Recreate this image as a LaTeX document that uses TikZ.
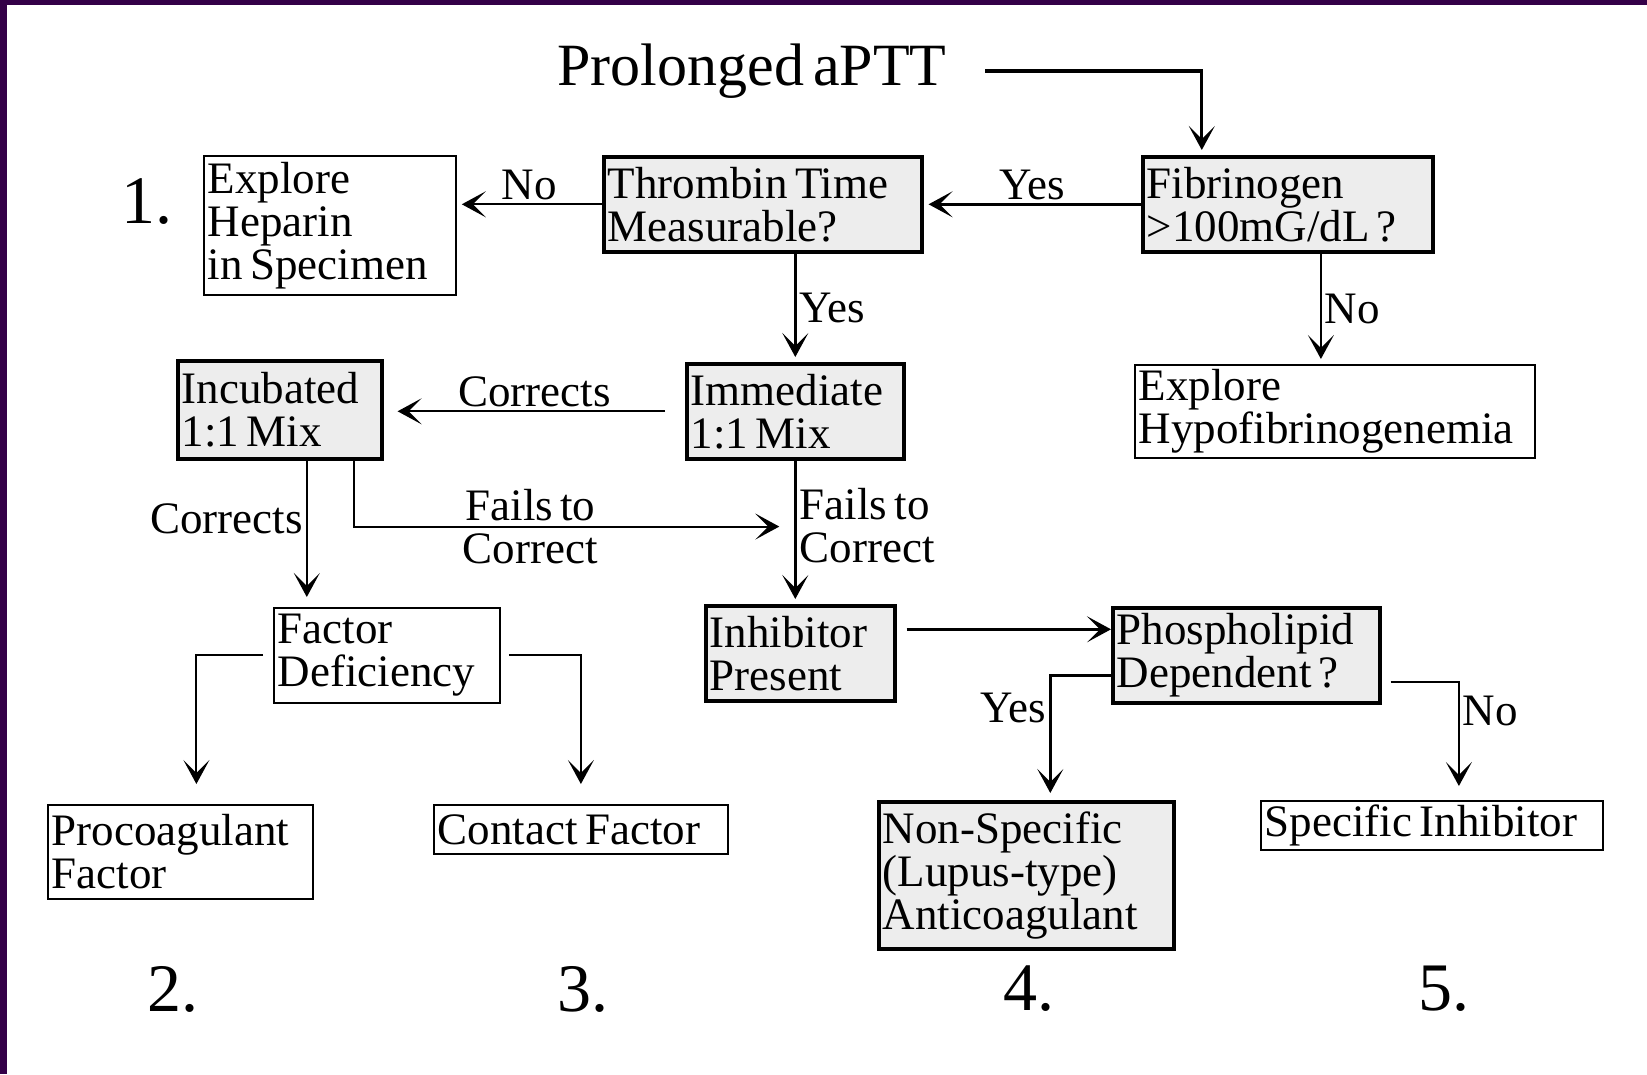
\documentclass[tikz,border=0pt]{standalone}
\usepackage{fontspec}
\setmainfont{Liberation Serif}[WordSpace=0.6]
\usetikzlibrary{arrows.meta,calc}
\definecolor{slidepurple}{RGB}{52,0,72}
\newcommand{\boxfont}{\fontsize{45}{43}\selectfont}
\newcommand{\titlefont}{\fontsize{60}{60}\selectfont}
\newcommand{\numfont}{\fontsize{68}{68}\selectfont}
\newcommand{\tightspace}{\spaceskip=0.16em plus 0.05em\relax}
\tikzset{
  % plain result box
  res/.style   = {rectangle, draw=black, line width=1.8pt, anchor=north west,
                  align=left, inner xsep=4pt, inner ysep=0pt, font=\boxfont,
                  execute at begin node=\tightspace},
  % test box (heavy frame, stippled fill)
  test/.style  = {res, line width=3.6pt, fill=black!7},
  % branch label
  lbl/.style   = {font=\boxfont, inner sep=3pt, execute at begin node=\tightspace},
  % outcome number
  num/.style   = {font=\numfont},
  % arrows
  flow/.style  = {-{Stealth[length=24pt,width=26pt,inset=13pt]}, line width=2pt, shorten >=5pt},
  heavy/.style = {flow, line width=3.2pt},
}
\begin{document}
\begin{tikzpicture}[x=1pt, y=-1pt]
  \useasboundingbox (0,0) rectangle (1647,1074);

  % slide frame
  \fill[slidepurple] (0,0) rectangle (1647,5);
  \fill[slidepurple] (0,0) rectangle (7,1074);

  \node[font=\titlefont] (aptt) at (752,71) {Prolonged aPTT};

  % first tests
  \node[res, text width=244pt, minimum height=139pt] (hep) at (203,155)
       {Explore\\Heparin\\in Specimen};
  \node[test, text width=310pt, minimum height=95pt] (tt) at (602,155)
       {Thrombin Time\\Measurable?};
  \node[test, text width=282pt, minimum height=95pt] (fib) at (1141,155)
       {Fibrinogen\\>100mG/dL ?};

  % mixing studies
  \node[test, text width=196pt, minimum height=98pt] (inc) at (176,359)
       {Incubated\\1:1 Mix};
  \node[test, text width=209pt, minimum height=95pt] (imm) at (685,362)
       {Immediate\\1:1 Mix};
  \node[res, text width=392pt, minimum height=93pt] (hypo) at (1134,364)
       {Explore\\Hypofibrinogenemia};

  \node[res, text width=218pt, minimum height=95pt] (fdef) at (273,607)
       {Factor\\Deficiency};
  \node[test, text width=181pt, minimum height=95pt] (inh) at (704,604)
       {Inhibitor\\Present};
  \node[test, text width=259pt, minimum height=95pt] (phos) at (1111,606)
       {Phospholipid\\Dependent ?};

  % outcomes
  \node[res, text width=257pt, minimum height=94pt] (proc) at (47,804)
       {Procoagulant\\Factor};
  \node[res, text width=286pt, minimum height=49pt] (cont) at (433,804)
       {Contact Factor};
  \node[test, text width=287pt, minimum height=147pt] (nonspec) at (877,800)
       {Non-Specific\\(Lupus-type)\\Anticoagulant};
  \node[res, text width=334pt, minimum height=49pt] (spec) at (1260,800)
       {Specific Inhibitor};

  \node[num] (n1) at (147,202) {1.};
  \node[num] (n2) at (173,989) {2.};
  \node[num] (n3) at (583,989) {3.};
  \node[num] (n4) at (1029,989) {4.};
  \node[num] (n5) at (1444,989) {5.};

  % --- edges ---
  \draw[heavy, shorten <=35pt] (aptt.east) -| ([xshift=-86pt]fib.north);
  \draw[flow, line width=2.6pt] (fib.west) -- node[lbl, above] {Yes} (tt.east);
  \draw[flow] (tt.west) -- node[lbl, above] {No} (tt.west -| hep.east);
  \draw[heavy] (tt.south -| imm.north) -- node[lbl, right] {Yes} (imm.north);
  \draw[flow] ([xshift=-14pt]hypo.north |- fib.south) -- node[lbl, right] {No}
        ([xshift=-14pt]hypo.north);

  \draw[flow, shorten <=20pt, shorten >=14pt] (imm.west) -- node[lbl, above] {Corrects}
        (imm.west -| inc.east);
  \draw[heavy] (imm.south) -- node[lbl, right, align=left, pos=0.45] {Fails to\\Correct}
        (imm.south |- inh.north);
  \coordinate (failjoin) at ($(imm.south)!0.46!(imm.south |- inh.north)$);
  \draw[flow, shorten >=16pt] ([xshift=74pt]inc.south) |-
        node[lbl, pos=0.70, align=center] {Fails to\\Correct} (failjoin);
  \draw[flow, shorten >=10pt] ([xshift=27pt]inc.south) -- node[lbl, left, pos=0.4] {Corrects}
        ([xshift=27pt]inc.south |- fdef.north);

  % factor deficiency splits
  \draw[flow, shorten <=10pt, shorten >=20pt] (fdef.west) -| ([xshift=16pt]proc.north);
  \draw[flow, shorten <=8pt, shorten >=20pt] (fdef.east) -| (cont.north);

  % inhibitor work-up
  \draw[heavy, shorten <=10pt, shorten >=0pt] ([yshift=24pt]inh.east) --
        ([yshift=24pt]inh.east -| phos.west);
  \draw[heavy, shorten >=7pt] ([yshift=-20pt]phos.west) -|
        node[lbl, left, pos=0.63] {Yes} ([xshift=24pt]nonspec.north);
  \draw[flow, shorten <=9pt, shorten >=14pt] ([yshift=-27pt]phos.east) -|
        node[lbl, right, pos=0.62] {No} ([xshift=27pt]spec.north);

\end{tikzpicture}
\end{document}
